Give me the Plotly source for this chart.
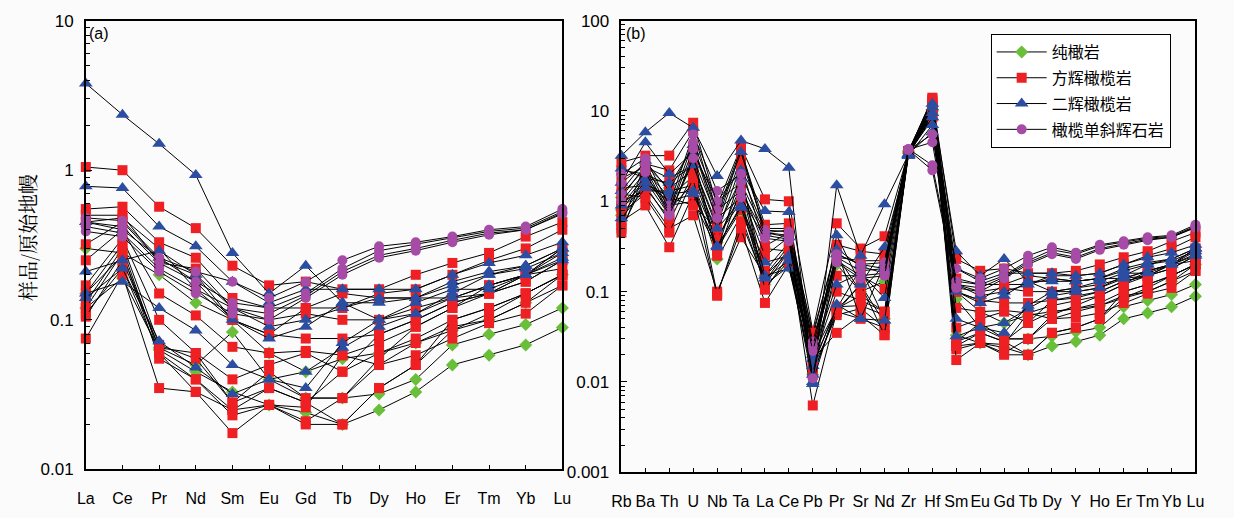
import plotly.graph_objects as go

# ---------------- categories ----------------
ree = ["La", "Ce", "Pr", "Nd", "Sm", "Eu", "Gd", "Tb", "Dy", "Ho", "Er", "Tm", "Yb", "Lu"]
spider = ["Rb", "Ba", "Th", "U", "Nb", "Ta", "La", "Ce", "Pb", "Pr", "Sr", "Nd", "Zr", "Hf",
          "Sm", "Eu", "Gd", "Tb", "Dy", "Y", "Ho", "Er", "Tm", "Yb", "Lu"]

# rock type for each sample (order of samples in every element list below)
rock_types = (["纯橄岩"] * 3 + ["方辉橄榄岩"] * 13 + ["二辉橄榄岩"] * 6 + ["橄榄单斜辉石岩"] * 4)

# ---------------- primitive-mantle normalised values (per element, per sample) ----------------
La = [0.12, 0.15, 0.3, 1.05, 0.55, 0.5, 0.32, 0.25, 0.17, 0.15, 0.13, 0.12, 0.11, 0.075, 0.45, 0.105,
      3.8, 0.78, 0.21, 0.15, 0.14, 0.45, 0.48, 0.45, 0.42, 0.39]
Ce = [0.19, 0.27, 0.28, 1.0, 0.57, 0.5, 0.45, 0.4, 0.35, 0.32, 0.3, 0.28, 0.22, 0.2, 0.48, 0.25,
      2.35, 0.76, 0.25, 0.18, 0.22, 0.4, 0.46, 0.42, 0.38, 0.36]
Pr = [0.063, 0.065, 0.2, 0.57, 0.33, 0.24, 0.25, 0.15, 0.1, 0.068, 0.06, 0.055, 0.06, 0.035, 0.3, 0.065,
      1.5, 0.42, 0.29, 0.12, 0.072, 0.26, 0.26, 0.24, 0.22, 0.21]
Nd = [0.045, 0.05, 0.13, 0.41, 0.26, 0.22, 0.2, 0.107, 0.06, 0.055, 0.04, 0.04, 0.033, 0.033, 0.16, 0.06,
      0.93, 0.31, 0.2, 0.085, 0.048, 0.18, 0.21, 0.18, 0.16, 0.15]
Sm = [0.033, 0.083, 0.1, 0.23, 0.14, 0.12, 0.1, 0.066, 0.04, 0.028, 0.025, 0.023, 0.0175, 0.025, 0.1, 0.028,
      0.28, 0.18, 0.12, 0.05, 0.032, 0.1, 0.18, 0.13, 0.12, 0.11]
Eu = [0.027, 0.04, 0.06, 0.17, 0.12, 0.1, 0.08, 0.06, 0.05, 0.045, 0.035, 0.027, 0.027, 0.027, 0.08, 0.035,
      0.15, 0.13, 0.09, 0.04, 0.04, 0.075, 0.14, 0.12, 0.11, 0.1]
Gd = [0.024, 0.03, 0.045, 0.18, 0.12, 0.11, 0.075, 0.062, 0.06, 0.03, 0.028, 0.026, 0.021, 0.02, 0.12, 0.028,
      0.23, 0.16, 0.1, 0.045, 0.035, 0.09, 0.18, 0.15, 0.145, 0.14]
Tb = [0.02, 0.03, 0.055, 0.16, 0.12, 0.1, 0.075, 0.058, 0.045, 0.03, 0.02, 0.058, 0.03, 0.02, 0.15, 0.045,
      0.13, 0.16, 0.12, 0.065, 0.07, 0.13, 0.25, 0.22, 0.21, 0.2]
Dy = [0.025, 0.032, 0.06, 0.16, 0.15, 0.1, 0.08, 0.07, 0.06, 0.055, 0.035, 0.05, 0.05, 0.035, 0.14, 0.08,
      0.1, 0.16, 0.14, 0.09, 0.1, 0.13, 0.31, 0.29, 0.27, 0.26]
Ho = [0.033, 0.04, 0.07, 0.2, 0.16, 0.12, 0.1, 0.09, 0.075, 0.09, 0.05, 0.058, 0.07, 0.05, 0.14, 0.1,
      0.11, 0.16, 0.14, 0.11, 0.13, 0.14, 0.33, 0.32, 0.30, 0.29]
Er = [0.05, 0.068, 0.085, 0.24, 0.2, 0.14, 0.13, 0.12, 0.1, 0.12, 0.085, 0.075, 0.09, 0.1, 0.14, 0.13,
      0.14, 0.2, 0.18, 0.15, 0.16, 0.17, 0.36, 0.35, 0.34, 0.33]
Tm = [0.058, 0.08, 0.1, 0.28, 0.25, 0.17, 0.15, 0.15, 0.12, 0.17, 0.11, 0.095, 0.1, 0.12, 0.15, 0.15,
      0.17, 0.24, 0.21, 0.2, 0.16, 0.2, 0.40, 0.39, 0.38, 0.37]
Yb = [0.068, 0.093, 0.13, 0.36, 0.3, 0.2, 0.18, 0.18, 0.15, 0.2, 0.15, 0.11, 0.13, 0.15, 0.2, 0.2,
      0.2, 0.27, 0.23, 0.22, 0.2, 0.23, 0.42, 0.41, 0.40, 0.40]
Lu = [0.089, 0.12, 0.2, 0.45, 0.4, 0.3, 0.25, 0.25, 0.2, 0.3, 0.2, 0.17, 0.17, 0.2, 0.28, 0.22,
      0.26, 0.33, 0.3, 0.28, 0.25, 0.3, 0.55, 0.53, 0.52, 0.51]
Rb = [0.8, 1.1, 0.7, 2.7, 2.2, 1.8, 1.4, 1.0, 0.9, 0.75, 0.6, 0.5, 0.45, 1.2, 0.55, 0.85,
      3.2, 1.6, 0.65, 2.3, 0.9, 1.3, 2.0, 1.6, 1.2, 1.0]
Ba = [1.8, 2.5, 1.6, 3.2, 2.0, 2.4, 1.5, 1.3, 1.9, 1.2, 0.9, 1.7, 2.2, 1.1, 2.6, 1.4,
      5.8, 4.5, 1.4, 1.8, 1.6, 2.8, 3.0, 2.6, 2.3, 2.1]
Th = [0.8, 1.4, 1.1, 3.2, 1.5, 1.8, 0.6, 1.3, 0.9, 0.5, 0.31, 0.7, 1.1, 0.45, 2.2, 0.65,
      9.5, 2.0, 1.2, 1.6, 1.0, 1.3, 0.9, 0.8, 0.75, 0.7]
U = [1.6, 2.2, 1.9, 7.4, 4.0, 2.5, 2.0, 1.5, 1.0, 0.7, 1.2, 2.8, 0.9, 1.8, 6.0, 3.3,
     6.5, 3.5, 1.3, 2.5, 1.2, 4.2, 5.5, 4.5, 3.8, 3.0]
Nb = [0.23, 0.4, 0.35, 0.9, 0.6, 0.55, 0.45, 0.38, 0.3, 0.1, 0.09, 0.25, 0.5, 0.095, 0.75, 0.28,
      1.9, 1.0, 0.31, 0.5, 0.32, 0.7, 1.3, 1.0, 0.8, 0.65]
Ta = [0.7, 1.0, 1.5, 4.0, 3.6, 3.0, 2.5, 1.2, 0.8, 0.4, 0.6, 1.4, 1.0, 0.5, 3.8, 2.0,
      4.7, 2.2, 0.9, 1.8, 0.85, 3.5, 2.0, 1.6, 1.3, 1.1]
Pb = [0.012, 0.02, 0.025, 0.037, 0.032, 0.028, 0.025, 0.02, 0.017, 0.015, 0.0055, 0.014, 0.012, 0.018, 0.035, 0.016,
      0.0095, 0.015, 0.018, 0.02, 0.01, 0.012, 0.028, 0.025, 0.022, 0.011]
Sr = [0.12, 0.18, 0.1, 0.3, 0.28, 0.22, 0.1, 0.15, 0.08, 0.07, 0.05, 0.065, 0.12, 0.055, 0.19, 0.09,
      0.25, 0.12, 0.05, 0.16, 0.05, 0.2, 0.2, 0.17, 0.15, 0.14]
Zr = [3.4, 3.5, 3.6, 3.5, 3.6, 3.55, 3.45, 3.5, 3.4, 3.5, 3.6, 3.45, 3.55, 3.4, 3.6, 3.5,
      3.3, 3.2, 3.25, 3.3, 3.2, 3.35, 3.7, 3.75, 3.8, 3.7]
Hf = [9.0, 8.0, 10.0, 14.0, 13.0, 12.5, 11.5, 10.5, 10.0, 9.0, 8.5, 12.0, 11.0, 9.5, 13.5, 10.0,
      12.0, 11.0, 9.5, 8.5, 7.0, 5.8, 5.5, 4.5, 2.5, 2.2]
Y = [0.028, 0.036, 0.065, 0.17, 0.15, 0.11, 0.085, 0.08, 0.065, 0.07, 0.04, 0.052, 0.06, 0.04, 0.13, 0.09,
     0.1, 0.15, 0.13, 0.1, 0.11, 0.13, 0.27, 0.26, 0.24, 0.23]

data = {"La": La, "Ce": Ce, "Pr": Pr, "Nd": Nd, "Sm": Sm, "Eu": Eu, "Gd": Gd, "Tb": Tb,
        "Dy": Dy, "Ho": Ho, "Er": Er, "Tm": Tm, "Yb": Yb, "Lu": Lu, "Rb": Rb, "Ba": Ba,
        "Th": Th, "U": U, "Nb": Nb, "Ta": Ta, "Pb": Pb, "Sr": Sr, "Zr": Zr, "Hf": Hf, "Y": Y}

styles = {
    "纯橄岩": dict(symbol="diamond", color="#6abf3a", size=10),
    "方辉橄榄岩": dict(symbol="square", color="#ee2024", size=10),
    "二辉橄榄岩": dict(symbol="triangle-up", color="#2b4ea2", size=12),
    "橄榄单斜辉石岩": dict(symbol="circle", color="#a64ca6", size=10),
}
legend_rank = {"纯橄岩": 1, "方辉橄榄岩": 2, "二辉橄榄岩": 3, "橄榄单斜辉石岩": 4}

fig = go.Figure()
seen = set()
for i, rock in enumerate(rock_types):
    st = styles[rock]
    first = rock not in seen
    seen.add(rock)
    mk = dict(symbol=st["symbol"], color=st["color"], size=st["size"], line=dict(width=0))
    fig.add_trace(go.Scatter(
        x=ree, y=[data[e][i] for e in ree], mode="lines+markers",
        line=dict(color="black", width=1), marker=mk, name=rock, legendgroup=rock,
        legendrank=legend_rank[rock], showlegend=first, cliponaxis=False,
        xaxis="x", yaxis="y"))
    fig.add_trace(go.Scatter(
        x=spider, y=[data[e][i] for e in spider], mode="lines+markers",
        line=dict(color="black", width=1), marker=mk, name=rock, legendgroup=rock,
        showlegend=False, cliponaxis=False, xaxis="x2", yaxis="y2"))

W, H = 1234, 518
xfont = dict(family="Liberation Sans, Arial", size=16, color="black")
yfont = dict(family="Liberation Sans, Arial", size=17, color="black")


def minor_vals(lo, hi):
    out = []
    for p in range(lo, hi):
        for m in range(2, 10):
            out.append(m * 10 ** p)
    return out


common_x = dict(type="category", showline=True, linecolor="black", linewidth=1.5, mirror=True,
                ticks="inside", ticklen=5, tickcolor="black", tickwidth=1, tickfont=xfont,
                showgrid=False, zeroline=False, ticklabelstandoff=14)
common_y = dict(type="log", showline=True, linecolor="black", linewidth=1.5, mirror=True,
                ticks="inside", ticklen=6, tickcolor="black", tickwidth=1, tickfont=yfont,
                showgrid=False, zeroline=False, ticklabelstandoff=7)

fig.update_layout(
    width=W, height=H, autosize=False,
    margin=dict(l=0, r=0, t=0, b=0),
    paper_bgcolor="#fbfbfb", plot_bgcolor="#fbfbfb",
    showlegend=True,
    xaxis=dict(**common_x, domain=[77 / W, 561 / W], anchor="y",
               categoryorder="array", categoryarray=ree, range=[0, len(ree) - 1]),
    yaxis=dict(**common_y, domain=[(H - 478) / H, (H - 12) / H], anchor="x", range=[-2, 1],
               tickvals=[0.01, 0.1, 1, 10], ticktext=["0.01", "0.1", "1", "10"],
               minor=dict(tickvals=minor_vals(-2, 1), ticks="inside", ticklen=4,
                          tickcolor="black", showgrid=False)),
    xaxis2=dict(**common_x, domain=[621 / W, 1204 / W], anchor="y2",
                categoryorder="array", categoryarray=spider, range=[0, len(spider) - 1]),
    yaxis2=dict(**common_y, domain=[(H - 481) / H, (H - 12) / H], anchor="x2", range=[-3, 2],
                tickvals=[0.001, 0.01, 0.1, 1, 10, 100],
                ticktext=["0.001", "0.01", "0.1", "1", "10", "100"],
                minor=dict(tickvals=minor_vals(-3, 2), ticks="inside", ticklen=4,
                           tickcolor="black", showgrid=False)),
    legend=dict(x=996 / W, y=(H - 26) / H, xanchor="left", yanchor="top",
                bgcolor="white", bordercolor="black", borderwidth=1,
                font=dict(family="Noto Sans CJK SC", size=16, color="black"),
                traceorder="grouped", tracegroupgap=2, itemwidth=50),
    annotations=[
        dict(text="样品/原始地幔", x=18 / W, y=(H - 237) / H, xref="paper", yref="paper",
             showarrow=False, textangle=-90, xanchor="center", yanchor="middle",
             font=dict(family="Noto Serif CJK SC, Noto Sans CJK SC", size=20, color="black")),
        dict(text="(a)", x=78 / W, y=(H - 25) / H, xref="paper", yref="paper", showarrow=False,
             xanchor="left", yanchor="middle", font=dict(family="Liberation Sans, Arial", size=16, color="black")),
        dict(text="(b)", x=624 / W, y=(H - 25) / H, xref="paper", yref="paper", showarrow=False,
             xanchor="left", yanchor="middle", font=dict(family="Liberation Sans, Arial", size=16, color="black")),
    ],
)

fig.write_html("out.html")
